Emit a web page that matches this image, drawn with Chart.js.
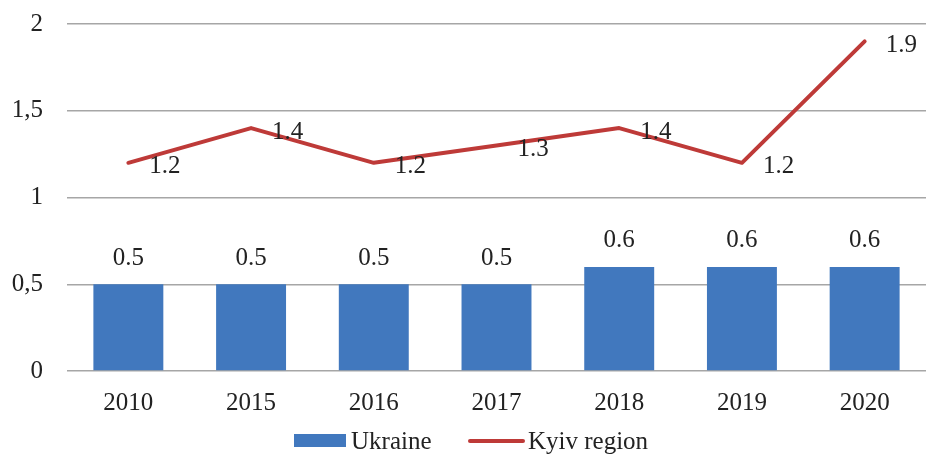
<!DOCTYPE html>
<html><head><meta charset="utf-8">
<script src="https://cdn.jsdelivr.net/npm/chart.js@4/dist/chart.umd.min.js"></script>
<style>html,body{margin:0;padding:0;background:#fff}#wrap{width:926px;height:455px;position:relative}</style>
</head><body><div id="wrap"><canvas id="c" width="926" height="455"></canvas></div>
<script>
const categories = ['2010','2015','2016','2017','2018','2019','2020'];
const ukraine = [0.5,0.5,0.5,0.5,0.6,0.6,0.6];
const kyiv = [1.2,1.4,1.2,1.3,1.4,1.2,1.9];
const seriesNames = ['Ukraine','Kyiv region'];
const BLUE = '#4178BE', RED = '#BE3A38';
const FONT = '"Liberation Serif","Times New Roman",serif';
const FS = 25;

const labelPlugin = {
  id: 'labels',
  afterDatasetsDraw(chart) {
    const ctx = chart.ctx;
    ctx.save();
    ctx.font = FS + 'px ' + FONT;
    ctx.fillStyle = '#222';
    const bm = chart.getDatasetMeta(0);
    bm.data.forEach((el, i) => {
      ctx.textAlign = 'center'; ctx.textBaseline = 'middle';
      ctx.fillText(String(ukraine[i]), el.x, el.y - 26);
    });
    const lm = chart.getDatasetMeta(1);
    lm.data.forEach((el, i) => {
      ctx.textAlign = 'left'; ctx.textBaseline = 'middle';
      ctx.fillText(String(kyiv[i]), el.x + 21, el.y + 4);
    });
    // legend
    const ly = 441;
    ctx.fillStyle = BLUE;
    ctx.fillRect(294, ly - 7, 52, 13);
    ctx.strokeStyle = RED; ctx.lineWidth = 4; ctx.lineCap = 'round';
    ctx.beginPath(); ctx.moveTo(470, ly); ctx.lineTo(523, ly); ctx.stroke();
    ctx.fillStyle = '#222'; ctx.textAlign = 'left'; ctx.textBaseline = 'middle';
    ctx.font = FS + 'px ' + FONT;
    ctx.fillText(seriesNames[0], 351, ly + 1);
    ctx.fillText(seriesNames[1], 528, ly + 1);
    ctx.restore();
  }
};

new Chart(document.getElementById('c'), {
  data: {
    labels: categories,
    datasets: [
      { type: 'bar', label: seriesNames[0], data: ukraine, backgroundColor: BLUE,
        categoryPercentage: 1, barPercentage: 0.57, order: 2 },
      { type: 'line', label: seriesNames[1], data: kyiv, borderColor: RED, borderWidth: 4,
        pointRadius: 0, tension: 0, borderCapStyle: 'round', borderJoinStyle: 'round', order: 1 }
    ]
  },
  options: {
    responsive: false, animation: false,
    layout: { padding: { left: 0, right: 0, top: 24, bottom: 20 } },
    plugins: { legend: { display: false }, tooltip: { enabled: false } },
    scales: {
      x: {
        grid: { display: false, drawTicks: false },
        border: { display: false },
        afterFit(s) { s.paddingLeft = 0; s.paddingRight = 0; },
        ticks: { font: { family: FONT, size: FS }, color: '#222', padding: 17 }
      },
      y: {
        min: 0, max: 2,
        grid: { color: '#A6A6A6', lineWidth: 1.5, drawTicks: false },
        border: { display: false },
        afterFit(s) { s.width = 67; s.paddingTop = 0; s.paddingBottom = 0; },
        ticks: { stepSize: 0.5, font: { family: FONT, size: FS }, color: '#222', padding: 24,
          callback: v => String(v).replace('.', ',') }
      }
    }
  },
  plugins: [labelPlugin]
});
</script></body></html>
